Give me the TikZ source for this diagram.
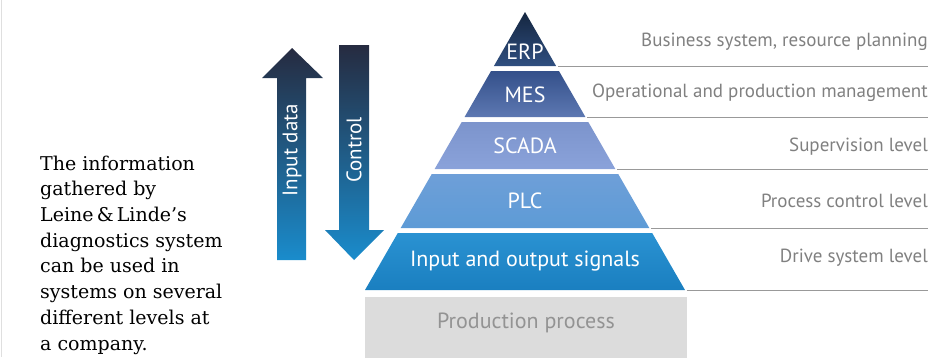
\documentclass[tikz,border=0pt]{standalone}
\usepackage{fontspec}
\newfontfamily\labelfont{PT Sans}
\newfontfamily\bodyfont{DejaVu Serif}
\definecolor{erpTop}{HTML}{152640}
\definecolor{erpBot}{HTML}{2F4F80}
\definecolor{mesTop}{HTML}{34508A}
\definecolor{mesBot}{HTML}{5D78B2}
\definecolor{scadaTop}{HTML}{7C94CC}
\definecolor{scadaBot}{HTML}{8AA2DA}
\definecolor{plcTop}{HTML}{6E9FD8}
\definecolor{plcBot}{HTML}{5D9BD6}
\definecolor{ioTop}{HTML}{2A92D2}
\definecolor{ioBot}{HTML}{1A7FC0}
\definecolor{arrDark}{HTML}{262B40}
\definecolor{arrMid}{HTML}{A4ACDE}
\definecolor{arrBlue}{HTML}{1A8CCC}
\definecolor{levelGray}{HTML}{808080}
\definecolor{prodGray}{HTML}{DCDCDC}

\begin{document}
\begin{tikzpicture}[x=1pt,y=-1pt,
    band label/.style={text=white, font=\labelfont\fontsize{22}{25}\selectfont},
    level label/.style={anchor=base east, inner sep=0pt, text=levelGray, font=\labelfont\fontsize{19}{22}\selectfont},
    level line/.style={draw=levelGray!80, line width=0.9pt},
    arrow label/.style={rotate=90, text=white, font=\labelfont\fontsize{21}{24}\selectfont},
    big arrow/.style={top color=arrDark, middle color=arrMid, bottom color=arrBlue}]

  \useasboundingbox (0,0) rectangle (940,357);
  \draw[gray!25] (1,0) -- (1,357);

  % left text
  \node[anchor=base west, align=left, inner sep=0pt,
        font=\bodyfont\fontsize{19}{25.7}\selectfont] (info) at (40,350)
    {The information\\gathered by\\Leine\,\&\,Linde’s\\diagnostics system\\can be used in\\systems on several\\different levels at\\a company.};

  % arrows
  \shade[big arrow] (277,260) -- (277,78) -- (262,78) -- (292,48) -- (323,78)
    -- (306,78) -- (306,260) -- cycle;
  \shade[big arrow] (339,45) -- (369,45) -- (369,230) -- (384,230) -- (354,260)
    -- (325,230) -- (339,230) -- cycle;
  \node[arrow label] (input) at (292,150) {Input data};
  \node[arrow label] (control) at (354,150) {Control};

  % pyramid
  \foreach \nm/\ya/\yb/\ca/\cb/\lbl/\ly in {
      erp/12/66/erpTop/erpBot/ERP/52,
      mes/71/117/mesTop/mesBot/MES/95,
      scada/122/169/scadaTop/scadaBot/SCADA/146,
      plc/174/228/plcTop/plcBot/PLC/201,
      io/233/290/ioTop/ioBot/Input and output signals/261}{
    \pgfmathsetmacro\wa{(\ya-12)*0.5755}
    \pgfmathsetmacro\wb{(\yb-12)*0.5755}
    \shade[top color=\ca, bottom color=\cb] (525-\wa,\ya) -- (525+\wa,\ya)
      -- (525+\wb,\yb) -- (525-\wb,\yb) -- cycle;
    \node[band label] (\nm) at (525,\ly) {\lbl};
    \coordinate (\nm-r) at (527+\wb,\yb);
    \coordinate (\nm-e) at (928,\yb);
    \draw[level line] (\nm-r) -- (\nm-e);
  }

  % base
  \fill[prodGray] (365,297) rectangle (687,360);
  \node[text=levelGray!85, font=\labelfont\fontsize{22}{25}\selectfont] (prod) at (526,323) {Production process};

  % levels
  \node[level label] (business) at (928,46) {Business system, resource planning};
  \node[level label] (operational) at (928,97) {Operational and production management};
  \node[level label] (supervision) at (928,151) {Supervision level};
  \node[level label] (process) at (928,207) {Process control level};
  \node[level label] (drive) at (928,262) {Drive system level};
\end{tikzpicture}
\end{document}
